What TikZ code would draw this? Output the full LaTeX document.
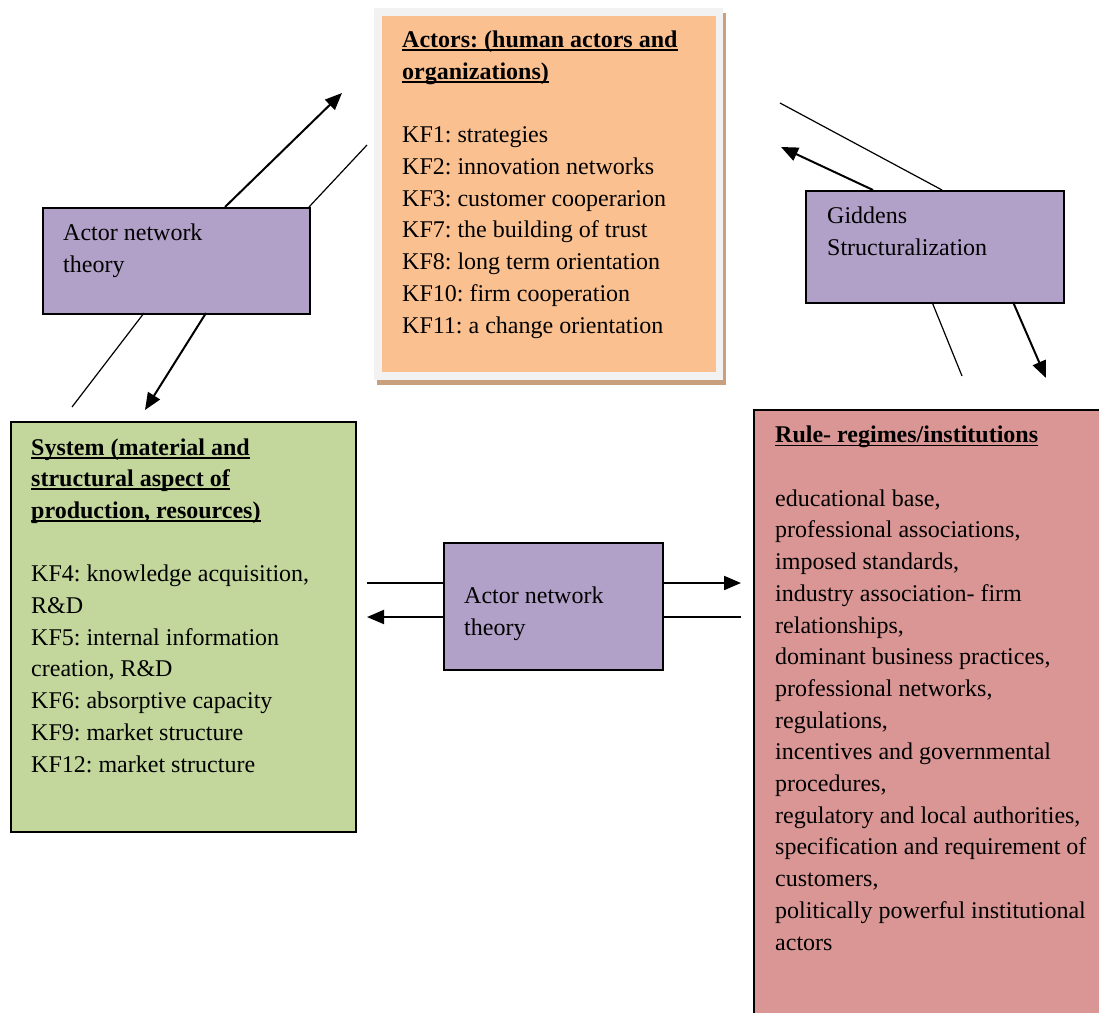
\documentclass[tikz,border=0pt]{standalone}
\usepackage{fontspec}
\setmainfont{Liberation Serif}
\usetikzlibrary{arrows.meta}
\definecolor{actorfill}{HTML}{FAC090}
\definecolor{antfill}{HTML}{B1A0C7}
\definecolor{sysfill}{HTML}{C3D69B}
\definecolor{rulefill}{HTML}{D99694}
\definecolor{framegrey}{HTML}{F2F2F2}
\definecolor{shadowbrown}{HTML}{C8A07E}
\newcommand\myul[1]{\setbox0\hbox{#1}\rlap{\rule[-3.5pt]{\wd0}{1.8pt}}\box0}
\frenchspacing
\begin{document}
\begin{tikzpicture}[x=1pt,y=-1pt,
  boxtxt/.style={anchor=base west, inner sep=0pt, align=left, font=\fontsize{24}{31.7}\selectfont},
  box/.style={draw=black, line width=1.5pt, anchor=north west, inner sep=0pt},
  arr/.style={line width=2pt, -{Triangle[length=17pt,width=14pt]}},
  plain/.style={line width=1.2pt}]
\useasboundingbox (0,0) rectangle (1099,1012);
\clip (0,0) rectangle (1099,1012);
\fill[white] (0,0) rectangle (1099,1012);
% Actors box with frame and shadow
\node[anchor=north west, inner sep=0pt, fill=shadowbrown, minimum width=349pt, minimum height=372pt] (actShadow) at (377,13) {};
\node[anchor=north west, inner sep=0pt, fill=framegrey, minimum width=349pt, minimum height=372pt] (actFrame) at (374,8) {};
\node[anchor=north west, inner sep=0pt, fill=actorfill, minimum width=334pt, minimum height=356pt] (actors) at (382,16) {};
\node[boxtxt] (actorsTxt) at (402,333) {\myul{\bfseries Actors: (human actors and}\\
\myul{\bfseries organizations)}\\[31.7pt]
KF1: strategies\\
KF2: innovation networks\\
KF3: customer cooperarion\\
KF7: the building of trust\\
KF8: long term orientation\\
KF10: firm cooperation\\
KF11: a change orientation};
% System box
\node[box, line width=2pt, fill=sysfill, minimum width=345pt, minimum height=410pt] (system) at (10,421) {};
\node[boxtxt] (systemTxt) at (31,772) {\myul{\bfseries System (material and}\\
\myul{\bfseries structural aspect of}\\
\myul{\bfseries production, resources)}\\[31.7pt]
KF4: knowledge acquisition,\\
R\&D\\
KF5: internal information\\
creation, R\&D\\
KF6: absorptive capacity\\
KF9: market structure\\
KF12: market structure};
% Rule regimes box
\node[box, fill=rulefill, minimum width=420pt, minimum height=660pt] (rules) at (753,409) {};
\node[boxtxt] (rulesTxt) at (775,950) {\myul{\bfseries Rule- regimes/institutions}\\[31.7pt]
educational base,\\
professional associations,\\
imposed standards,\\
industry association- firm\\
relationships,\\
dominant business practices,\\
professional networks,\\
regulations,\\
incentives and governmental\\
procedures,\\
regulatory and local authorities,\\
specification and requirement of\\
customers,\\
politically powerful institutional\\
actors};
% Theory boxes
\node[box, fill=antfill, minimum width=267pt, minimum height=106pt] (antL) at (42,207) {};
\node[boxtxt] (antLTxt) at (63,272) {Actor network\\theory};
\node[box, fill=antfill, minimum width=258pt, minimum height=112pt] (gid) at (805,190) {};
\node[boxtxt] (gidTxt) at (827,255) {Giddens\\Structuralization};
\node[box, fill=antfill, minimum width=219pt, minimum height=127pt] (antC) at (443,542) {};
\node[boxtxt] (antCTxt) at (464,635) {Actor network\\theory};
% connector coordinates
\coordinate (a1s) at (225,207); \coordinate (a1e) at (342,93);
\coordinate (l1s) at (309,207); \coordinate (l1e) at (367,145);
\coordinate (l2s) at (144,313); \coordinate (l2e) at (72,407);
\coordinate (a2s) at (206,313); \coordinate (a2e) at (145,410);
\coordinate (l3s) at (942,190); \coordinate (l3e) at (780,103);
\coordinate (a3s) at (873,190); \coordinate (a3e) at (781,147);
\coordinate (l4s) at (932,302); \coordinate (l4e) at (962,376);
\coordinate (a4s) at (1013,302); \coordinate (a4e) at (1046,378);
\coordinate (l5s) at (443,583); \coordinate (l5e) at (367,583);
\coordinate (a5s) at (443,617); \coordinate (a5e) at (367,617);
\coordinate (a6s) at (662,583); \coordinate (a6e) at (741,583);
\coordinate (l6s) at (662,617); \coordinate (l6e) at (741,617);
\draw[arr] (a1s) -- (a1e);
\draw[plain] (l1s) -- (l1e);
\draw[plain] (l2s) -- (l2e);
\draw[arr] (a2s) -- (a2e);
\draw[plain] (l3s) -- (l3e);
\draw[arr] (a3s) -- (a3e);
\draw[plain] (l4s) -- (l4e);
\draw[arr] (a4s) -- (a4e);
\draw[plain] (l5s) -- (l5e);
\draw[arr] (a5s) -- (a5e);
\draw[arr] (a6s) -- (a6e);
\draw[plain] (l6s) -- (l6e);
\end{tikzpicture}
\end{document}
